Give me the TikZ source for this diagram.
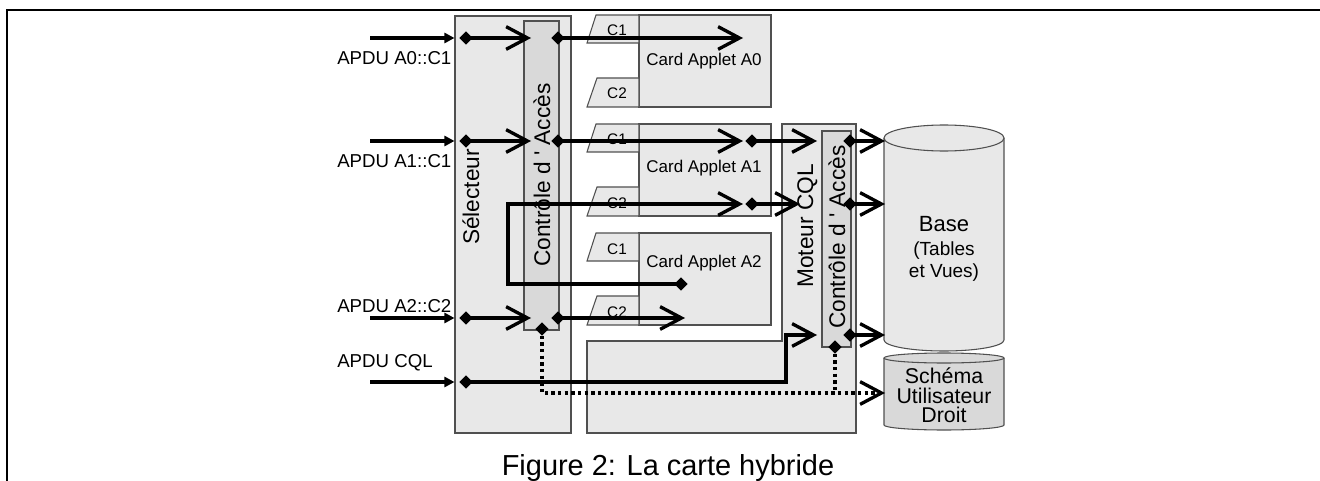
\documentclass[tikz,border=0pt]{standalone}
\usepackage{fontspec}
\setmainfont{Liberation Sans}
\usetikzlibrary{arrows.meta,shapes.geometric,fit}
\definecolor{boxfill}{HTML}{E8E8E8}
\definecolor{barfill}{HTML}{D9D9D9}
\definecolor{boxline}{HTML}{505050}
\begin{document}
\begin{tikzpicture}[x=0.75pt,y=-0.75pt,
  box/.style={draw=boxline, line width=0.8pt, fill=boxfill, inner sep=0pt},
  bar/.style={draw=boxline, line width=0.8pt, fill=barfill, inner sep=0pt},
  conn/.style={line width=2.5pt},
  chev/.style={conn, -{Straight Barb[length=16pt,width=17pt]}},
  inarr/.style={conn, -{Triangle[length=7.5pt,width=7.5pt]}},
  dots/.style={line width=2.4pt, dash pattern=on 2.4pt off 2.6pt},
  dotchev/.style={dots, -{Straight Barb[length=16pt,width=17pt,line width=2.5pt]}},
  dia/.style={diamond, fill=black, inner sep=0pt, minimum size=9.5pt},
  apdu/.style={font=\fontsize{14}{16}\selectfont, anchor=base west, inner sep=0pt},
  rot/.style={rotate=90, anchor=base, inner sep=0pt, font=\fontsize{17}{20}\selectfont},
  tablbl/.style={anchor=base, inner sep=0pt, font=\fontsize{11.5}{13}\selectfont},
  applbl/.style={anchor=base, inner sep=0pt, font=\fontsize{12.75}{15}\selectfont},
  cyltxt/.style={anchor=base, inner sep=0pt, font=\fontsize{16.5}{18}\selectfont},
  schtxt/.style={anchor=base, inner sep=0pt, font=\fontsize{16}{17}\selectfont},
  cylsmall/.style={anchor=base, inner sep=0pt, font=\fontsize{14.25}{17}\selectfont}
]
\useasboundingbox (0,0) rectangle (1320,481);

% frame
\draw[line width=1.6pt] (7,481) -- (7,10) -- (1320,10);

% selector
\node[box, fit={(455,16) (571,433)}] (sel) {};
\node[rot] (selt) at (479,197) {Sélecteur};

% left access control bar
\node[bar, fit={(524,21) (559,330)}] (cal) {};
\node[rot] (calt) at (550,175) {Contrôle d \textquotesingle{} Accès};

% moteur CQL (L shape)
\draw[draw=boxline, fill=boxfill, line width=0.8pt] (782,124) -- (856,124) -- (856,433) -- (587,433) -- (587,341) -- (782,341) -- cycle;
\node[rot] (mot) at (813,226) {Moteur CQL};

% right access control bar
\node[bar, fit={(822,131) (851,347)}] (car) {};
\node[rot] (cart) at (845,237) {Contrôle d \textquotesingle{} Accès};

% card applets
\foreach \t/\nm/\ly in {15/A0/66, 124/A1/173, 233/A2/267}{
  \node[box, fit={(639,\t) (771,\t+92)}] (app\nm) {};
  \draw[box] (639,\t) -- (596,\t) -- (587,\t+28) -- (639,\t+28) -- cycle;
  \draw[box] (639,\t+63) -- (597,\t+63) -- (587,\t+92) -- (639,\t+92) -- cycle;
  \node[tablbl] (ca\nm) at (617,\t+21) {C1};
  \node[tablbl] (cb\nm) at (617,\t+84) {C2};
  \node[applbl] (lab\nm) at (704,\ly) {Card Applet \nm};
}

% Base cylinder
\fill[boxfill] (884,138) -- (884,340) arc[start angle=180,end angle=360,x radius=45pt,y radius=8.25pt] -- (1004,138) -- cycle;
\draw[boxline, line width=0.8pt] (884,138) -- (884,340) arc[start angle=180,end angle=360,x radius=45pt,y radius=8.25pt] -- (1004,138);
\draw[boxline, fill=boxfill, line width=0.8pt] (944,138) ellipse[x radius=45pt, y radius=9.75pt];
\node[cyltxt] (base1) at (944,231) {Base};
\node[cylsmall] (base2) at (944,255) {(Tables};
\node[cylsmall] (base3) at (944,277) {et Vues)};

% Schema cylinder
\fill[barfill] (884,358) -- (884,425) arc[start angle=180,end angle=360,x radius=45pt,y radius=3.75pt] -- (1004,358) -- cycle;
\draw[boxline, line width=0.8pt] (884,358) -- (884,425) arc[start angle=180,end angle=360,x radius=45pt,y radius=3.75pt] -- (1004,358);
\draw[boxline, fill=barfill, line width=0.8pt] (944,358) ellipse[x radius=45pt, y radius=3.75pt];
\node[schtxt] (sch1) at (944,383) {Schéma};
\node[schtxt] (sch2) at (944,403) {Utilisateur};
\node[schtxt] (sch3) at (944,422) {Droit};

% input labels
\node[apdu] (la0) at (337,65) {APDU A0::C1};
\node[apdu] (la1) at (337,167) {APDU A1::C1};
\node[apdu] (la2) at (337,312) {APDU A2::C2};
\node[apdu] (la3) at (337,367) {APDU CQL};

% coordinates
\coordinate (in0) at (370,38);
\coordinate (in1) at (370,141);
\coordinate (in2) at (370,318);
\coordinate (in3) at (370,382);
\coordinate (k0) at (531,38);
\coordinate (k1) at (531,141);
\coordinate (k2) at (531,318);
\coordinate (t0) at (743,38);
\coordinate (t1) at (743,141);
\coordinate (t2) at (743,204);
\coordinate (t3) at (685,318);
\coordinate (m1) at (817,141);
\coordinate (m2) at (800,204);
\coordinate (m3) at (817,335);
\coordinate (b1) at (885,141);
\coordinate (b2) at (885,204);
\coordinate (b3) at (885,335);
\coordinate (b4) at (885,393);
\coordinate (v1) at (508,284);
\coordinate (v2) at (508,204);
\coordinate (w1) at (786,382);
\coordinate (w2) at (786,335);
\coordinate (x1) at (542,393);
\coordinate (x2) at (835,393);

% diamonds
\node[dia] (s0) at (466,38) {};
\node[dia] (s1) at (466,141) {};
\node[dia] (s2) at (466,318) {};
\node[dia] (s3) at (466,382) {};
\node[dia] (l0) at (558,38) {};
\node[dia] (l1) at (558,141) {};
\node[dia] (l2) at (558,318) {};
\node[dia] (lb) at (542,329) {};
\node[dia] (a1) at (752,141) {};
\node[dia] (a2) at (752,204) {};
\node[dia] (h) at (681,284) {};
\node[dia] (r1) at (850,141) {};
\node[dia] (r2) at (850,204) {};
\node[dia] (r3) at (850,335) {};
\node[dia] (rb) at (835,347) {};

% input arrows
\draw[inarr] (in0) -- (sel.west |- in0);
\draw[inarr] (in1) -- (sel.west |- in1);
\draw[inarr] (in2) -- (sel.west |- in2);
\draw[inarr] (in3) -- (sel.west |- in3);

% connectors
\draw[chev] (s0.center) -- (k0);
\draw[chev] (s1.center) -- (k1);
\draw[chev] (s2.center) -- (k2);
\draw[chev] (l0.center) -- (t0);
\draw[chev] (l1.center) -- (t1);
\draw[chev] (a1.center) -- (m1);
\draw[chev] (r1.center) -- (b1);
\draw[chev] (h.center) -- (v1) -- (v2) -- (t2);
\draw[chev] (a2.center) -- (m2);
\draw[chev] (r2.center) -- (b2);
\draw[chev] (l2.center) -- (t3);
\draw[chev] (s3.center) -- (w1) -- (w2) -- (m3);
\draw[chev] (r3.center) -- (b3);
\draw[dotchev] (lb.center) -- (x1) -- (b4);
\draw[dots] (rb.center) -- (x2);

% redraw diamonds on top
\foreach \d in {s0,s1,s2,s3,l0,l1,l2,lb,a1,a2,h,r1,r2,r3,rb}{
  \fill (\d.north) -- (\d.east) -- (\d.south) -- (\d.west) -- cycle;
}

% caption
\node[anchor=base, inner sep=0pt, font=\fontsize{21.7}{26}\selectfont] (cap) at (668,475) {Figure 2: La carte hybride};
\end{tikzpicture}
\end{document}
